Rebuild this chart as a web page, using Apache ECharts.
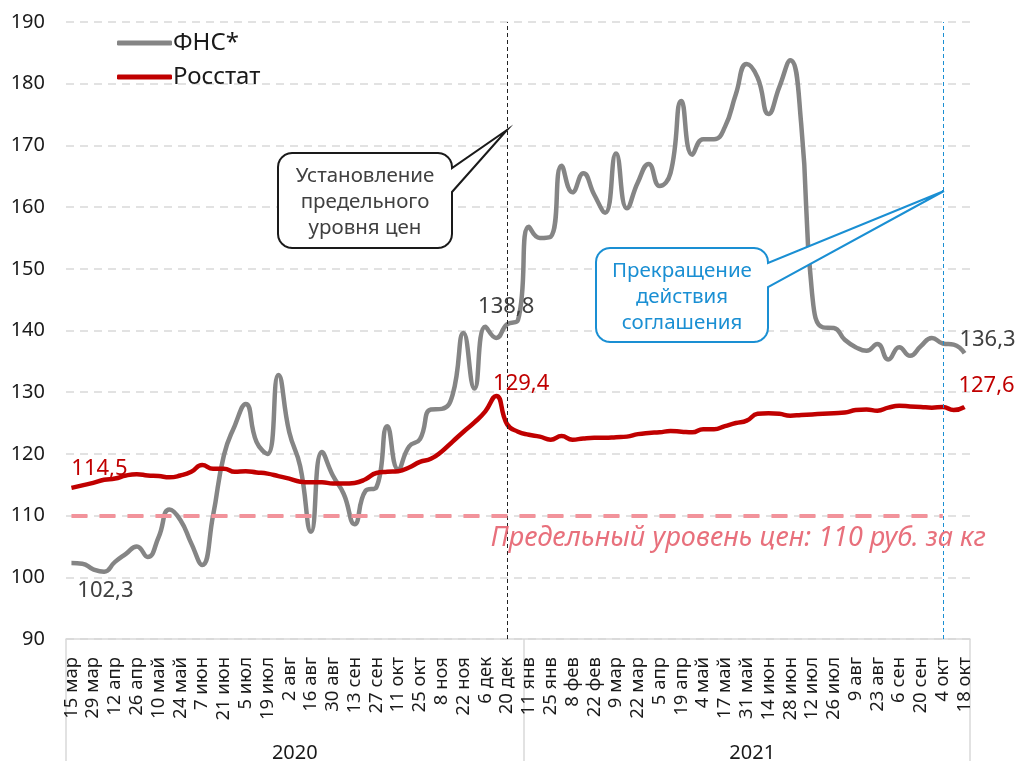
<!DOCTYPE html>
<html>
<head>
<meta charset="utf-8">
<title>Цены: ФНС и Росстат</title>
<script src="https://cdn.jsdelivr.net/npm/echarts@6/dist/echarts.min.js"></script>
<style>
html, body { margin: 0; padding: 0; background: #fff; }
#chart { width: 1028px; height: 763px; }
</style>
</head>
<body>
<div id="chart"></div>
<script>
// weekly dates, labels are shown for every second week
const weeks2020 = [
  '15 мар', '22 мар', '29 мар', '5 апр', '12 апр', '19 апр', '26 апр', '3 май', '10 май', '17 май',
  '24 май', '31 май', '7 июн', '14 июн', '21 июн', '28 июн', '5 июл', '12 июл', '19 июл', '26 июл',
  '2 авг', '9 авг', '16 авг', '23 авг', '30 авг', '6 сен', '13 сен', '20 сен', '27 сен', '4 окт',
  '11 окт', '18 окт', '25 окт', '1 ноя', '8 ноя', '15 ноя', '22 ноя', '29 ноя', '6 дек', '13 дек',
  '20 дек', '27 дек',
]
const weeks2021 = [
  '11 янв', '18 янв', '25 янв', '1 фев', '8 фев', '15 фев', '22 фев', '1 мар', '9 мар', '15 мар',
  '22 мар', '29 мар', '5 апр', '12 апр', '19 апр', '26 апр', '4 май', '11 май', '17 май', '24 май',
  '31 май', '7 июн', '14 июн', '21 июн', '28 июн', '5 июл', '12 июл', '19 июл', '26 июл', '2 авг',
  '9 авг', '16 авг', '23 авг', '30 авг', '6 сен', '13 сен', '20 сен', '27 сен', '4 окт', '11 окт',
  '18 окт',
]

const fnsPrices = [
  102.3, 102.2, 101.3, 100.9, 102.5, 103.8, 105.0, 103.3, 106.5, 111.0,
  109.3, 105.5, 102.0, 110.0, 119.8, 124.6, 128.1, 121.9, 120.0, 132.8,
  123.5, 118.0, 107.4, 120.3, 116.5, 113.5, 108.6, 114.0, 114.6, 124.5,
  117.5, 121.2, 122.4, 127.2, 127.3, 129.6, 139.6, 130.6, 140.6, 138.8,
  141.0, 141.7,
  156.8, 155.0, 155.2, 166.7, 162.4, 165.5, 162.0, 159.1, 168.7, 159.8,
  164.0, 167.0, 163.4, 165.5, 177.2, 168.5, 171.0, 171.0, 173.0, 178.3,
  183.2, 181.0, 175.1, 179.5, 183.8, 173.5, 146.0, 140.5, 140.4, 138.5,
  137.3, 136.7, 137.8, 135.3, 137.3, 135.9, 137.5, 138.8, 137.9, 137.7,
  136.3,
]
const rosstatPrices = [
  114.5, 114.9, 115.3, 115.8, 116.0, 116.5, 116.7, 116.5, 116.4, 116.2,
  116.5, 117.1, 118.2, 117.6, 117.6, 117.1, 117.2, 117.0, 116.8, 116.4,
  116.0, 115.5, 115.4, 115.4, 115.2, 115.2, 115.3, 115.9, 116.9, 117.1,
  117.2, 117.8, 118.7, 119.2, 120.4, 122.0, 123.6, 125.1, 126.9, 129.4,
  124.8, 123.6,
  123.1, 122.8, 122.3, 122.9, 122.3, 122.5, 122.6, 122.6, 122.7, 122.8,
  123.2, 123.4, 123.5, 123.7, 123.6, 123.5, 124.0, 124.0, 124.5, 125.0,
  125.4, 126.5, 126.6, 126.5, 126.2, 126.3, 126.4, 126.5, 126.6, 126.7,
  127.1, 127.2, 127.0, 127.5, 127.8, 127.7, 127.6, 127.5, 127.6, 127.1,
  127.6,
]

const priceCap = 110
const yTicks = [90, 100, 110, 120, 130, 140, 150, 160, 170, 180, 190]

const weeks = weeks2020.concat(weeks2021)
const years = weeks2020.map(() => '2020').concat(weeks2021.map(() => '2021'))
const capStart = weeks.indexOf('20 дек')
const capEnd = weeks.lastIndexOf('4 окт')
const last = weeks.length - 1

const FONT = 'Noto Sans'
const GRAY = '#858585'
const RED = '#c00000'
const BLUE = '#1a8fd3'
const PINK = '#f2939b'

function fmt(v) {
  return String(v).replace('.', ',')
}

function withLabels(values, labels, color) {
  return values.map((v, i) => {
    if (!labels[i]) return v
    return {
      value: v,
      label: {
        show: true,
        position: 'top',
        offset: labels[i],
        color: color,
        fontSize: 22,
        fontFamily: FONT,
        formatter: (p) => fmt(p.value),
      },
    }
  })
}

// middle index of each year block, for the year captions
function yearMiddle(index) {
  const first = years.indexOf(years[index])
  const lastOf = years.lastIndexOf(years[index])
  return index === Math.floor((first + lastOf) / 2)
}

// rounded box with a pointer leaving its right side
function calloutShape(x0, y0, x1, y1, r, baseTop, tip, baseBottom) {
  const pts = []
  function arc(cx, cy, a0, a1) {
    for (let k = 0; k <= 6; k++) {
      const a = a0 + ((a1 - a0) * k) / 6
      pts.push([cx + r * Math.cos(a), cy + r * Math.sin(a)])
    }
  }
  arc(x1 - r, y0 + r, -Math.PI / 2, 0)
  pts.push([x1, baseTop], tip, [x1, baseBottom])
  arc(x1 - r, y1 - r, 0, Math.PI / 2)
  arc(x0 + r, y1 - r, Math.PI / 2, Math.PI)
  arc(x0 + r, y0 + r, Math.PI, Math.PI * 1.5)
  return pts
}

const chart = echarts.init(document.getElementById('chart'))

chart.setOption({
  animation: false,
  textStyle: { fontFamily: FONT },
  grid: { left: 66, right: 58, top: 22, bottom: 122 },
  legend: {
    orient: 'vertical',
    left: 112,
    top: 26,
    itemWidth: 55,
    itemHeight: 5,
    itemGap: 10,
    textStyle: { fontSize: 24, color: '#1a1a1a', fontFamily: FONT, padding: [0, 0, 0, -4] },
    data: [
      { name: 'ФНС*', icon: 'roundRect' },
      { name: 'Росстат', icon: 'roundRect' },
    ],
  },
  xAxis: [
    {
      type: 'category',
      data: weeks,
      boundaryGap: true,
      axisLine: { lineStyle: { color: '#d9d9d9', width: 1.5 } },
      axisTick: { show: false },
      axisLabel: {
        interval: 1,
        rotate: 90,
        margin: 18,
        fontSize: 18.5,
        color: '#1a1a1a',
      },
    },
    {
      type: 'category',
      data: years,
      position: 'bottom',
      boundaryGap: true,
      axisLine: { show: false },
      axisTick: {
        show: true,
        length: 122,
        interval: (i) => i === 0 || years[i] !== years[i - 1],
        lineStyle: { color: '#d9d9d9', width: 1.5 },
      },
      axisLabel: {
        interval: (i) => yearMiddle(i),
        margin: 104,
        fontSize: 20,
        color: '#1a1a1a',
        padding: [0, 0, 0, 11],
      },
    },
  ],
  yAxis: {
    type: 'value',
    min: yTicks[0],
    max: yTicks[yTicks.length - 1],
    interval: 10,
    axisLine: { show: false },
    axisTick: { show: false },
    axisLabel: { fontSize: 20, color: '#1a1a1a', margin: 21 },
    splitLine: {
      lineStyle: { color: '#d9d9d9', width: 1.5, type: [8, 6] },
    },
  },
  series: [
    {
      name: 'ФНС*',
      type: 'line',
      z: 3,
      data: withLabels(fnsPrices, { 0: [34, 44], 39: [10, -15], [last]: [23, 2] }, '#404040'),
      smooth: 0.5,
      symbol: 'circle',
      symbolSize: 0,
      showSymbol: true,
      lineStyle: { color: GRAY, width: 4.5 },
      itemStyle: { color: GRAY },
      markLine: {
        silent: true,
        symbol: 'none',
        label: { show: false },
        data: [
          { xAxis: capStart, lineStyle: { color: '#222', width: 1, type: [4, 3] } },
          { xAxis: capEnd, lineStyle: { color: BLUE, width: 1, type: [4, 3] } },
          [
            { coord: [0, priceCap], lineStyle: { color: PINK, width: 4, type: [16, 12] } },
            { coord: [capEnd, priceCap] },
          ],
        ],
      },
    },
    {
      name: 'Росстат',
      type: 'line',
      z: 4,
      data: withLabels(rosstatPrices, { 0: [28, -3], 39: [25, 4], [last]: [22, -5] }, RED),
      smooth: 0.5,
      symbol: 'circle',
      symbolSize: 0,
      showSymbol: true,
      lineStyle: { color: RED, width: 4.5 },
      itemStyle: { color: RED },
    },
  ],
  graphic: [
    {
      type: 'polygon',
      z: 10,
      shape: { points: calloutShape(278, 153, 452, 248, 14, 168, [507, 130], 192) },
      style: { fill: '#fff', stroke: '#1a1a1a', lineWidth: 2 },
    },
    {
      type: 'text',
      z: 11,
      style: {
        text: 'Установление\nпредельного\nуровня цен',
        x: 365,
        y: 202,
        align: 'center',
        verticalAlign: 'middle',
        lineHeight: 26,
        fontSize: 20.5,
        fontFamily: FONT,
        fill: '#404040',
      },
    },
    {
      type: 'polygon',
      z: 10,
      shape: { points: calloutShape(596, 248, 768, 342, 14, 263, [944, 191], 287) },
      style: { fill: '#fff', stroke: BLUE, lineWidth: 2 },
    },
    {
      type: 'text',
      z: 11,
      style: {
        text: 'Прекращение\nдействия\nсоглашения',
        x: 682,
        y: 297,
        align: 'center',
        verticalAlign: 'middle',
        lineHeight: 26,
        fontSize: 20.5,
        fontFamily: FONT,
        fill: BLUE,
      },
    },
    {
      type: 'text',
      z: 11,
      style: {
        text: 'Предельный уровень цен: 110 руб. за кг',
        x: 986,
        y: 538,
        align: 'right',
        verticalAlign: 'middle',
        fontSize: 27,
        fontStyle: 'italic',
        fontFamily: FONT,
        fill: '#e8707c',
      },
    },
  ],
})
</script>
</body>
</html>
